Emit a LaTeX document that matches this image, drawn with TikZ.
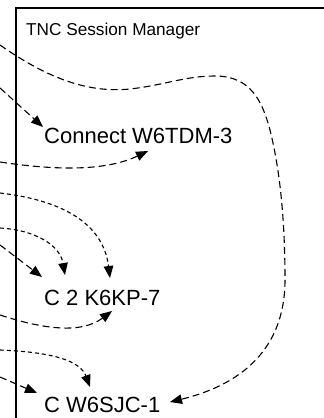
\documentclass[tikz,border=0pt]{standalone}
\usepackage{fontspec}
\setmainfont{Liberation Sans}
\usetikzlibrary{arrows.meta}
\tikzset{
  frame/.style={draw=black, line width=1.2pt},
  title/.style={anchor=base west, inner sep=0pt, font=\fontsize{17.2}{19}\selectfont},
  label/.style={anchor=base west, inner sep=0pt, font=\fontsize{22}{24}\selectfont},
  longdash/.style={draw=black, line width=1.1pt, dash pattern=on 7pt off 4pt,
    -{Triangle[length=12pt,width=9.5pt]}},
  shortdash/.style={draw=black, line width=1.1pt, dash pattern=on 4pt off 3pt,
    -{Triangle[length=12pt,width=9.5pt]}},
}
\begin{document}
\begin{tikzpicture}[x=1pt,y=-1pt]
\clip (0,0) rectangle (324,418);

% session manager panel (runs off the right and bottom)
\draw[frame] (16,440) -- (16,8) -- (340,8);
\node[title] (title) at (26,35.5) {TNC Session Manager};

% sessions
\node[label] (s1) at (44,143.5) {Connect W6TDM-3};
\node[label] (s2) at (44,305) {C 2 K6KP-7};
\node[label] (s3) at (44,412) {C W6SJC-1};

% incoming ends (left edge)
\coordinate (a1) at (0,45);
\coordinate (a2) at (0,88);
\coordinate (a3) at (0,162);
\coordinate (a4) at (0,193);
\coordinate (a5) at (0,228);
\coordinate (a6) at (0,245);
\coordinate (a7) at (0,315);
\coordinate (a8) at (0,350);
\coordinate (a9) at (0,377);

% arrow tips
\coordinate (b1) at (170,402);
\coordinate (b2) at (43,127);
\coordinate (b3) at (148,151);
\coordinate (b4) at (110,278);
\coordinate (b5) at (65,275);
\coordinate (b6) at (42,277);
\coordinate (b7) at (112,311);
\coordinate (b8) at (90,387);
\coordinate (b9) at (37,393);

% long loop round the right side
\draw[longdash] (a1) .. controls (50,80) and (90,93) .. (130,89)
  .. controls (165,85) and (185,76) .. (215,76)
  .. controls (250,76) and (262,100) .. (270,130)
  .. controls (280,170) and (285,220) .. (285,280)
  .. controls (285,350) and (240,385) .. (b1);

% connections to W6TDM-3
\draw[longdash] (a2) -- (b2);
\draw[longdash] (a3) .. controls (40,168) and (100,174) .. (b3);

% connections to K6KP-7
\draw[shortdash] (a4) .. controls (60,200) and (103,222) .. (b4);
\draw[shortdash] (a5) .. controls (35,230) and (60,245) .. (b5);
\draw[longdash] (a6) -- (b6);
\draw[longdash] (a7) .. controls (40,328) and (80,335) .. (b7);

% connections to W6SJC-1
\draw[shortdash] (a8) .. controls (50,352) and (80,360) .. (b8);
\draw[longdash] (a9) -- (b9);
\end{tikzpicture}
\end{document}
